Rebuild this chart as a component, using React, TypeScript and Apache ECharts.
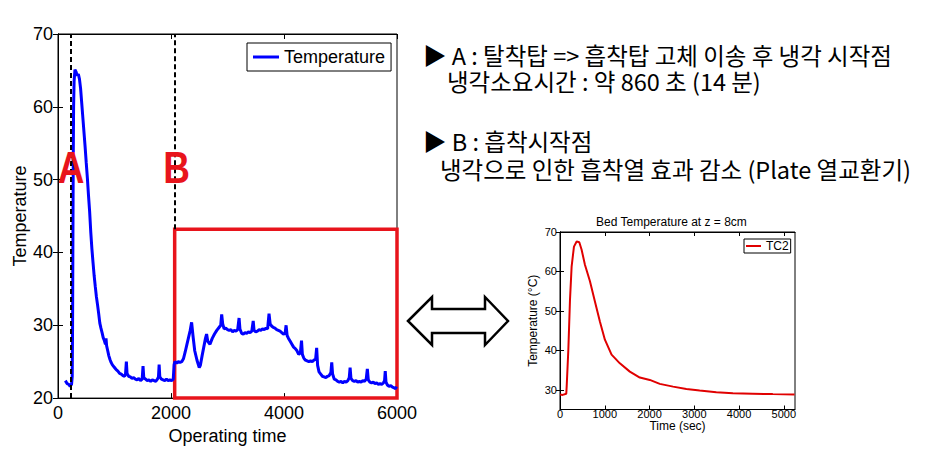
import React, { useEffect, useRef } from "react";
import * as echarts from "echarts";

// ---- Left chart: operating data ----
const opTime = [
  130, 160, 190, 215, 240, 252, 258, 264, 270, 276, 285, 300, 320, 340, 360, 380, 400, 420, 440, 460,
  480, 500, 520, 540, 560, 580, 600, 620, 640, 660, 680, 700, 720, 740, 760, 780, 800, 820, 840, 850,
  860, 880, 900, 920, 940, 960, 980, 1000, 1030, 1060, 1090, 1120, 1150, 1180, 1195, 1210, 1222, 1250, 1280, 1310,
  1340, 1370, 1400, 1430, 1460, 1490, 1505, 1518, 1550, 1580, 1610, 1640, 1670, 1700, 1730, 1760, 1778, 1790, 1802, 1830,
  1860, 1890, 1920, 1950, 1980, 2010, 2040, 2055, 2070, 2100, 2130, 2160, 2190, 2220, 2250, 2280, 2310, 2340, 2365, 2390,
  2420, 2460, 2500, 2520, 2550, 2580, 2610, 2630, 2650, 2690, 2730, 2770, 2810, 2850, 2880, 2897, 2915, 2940, 2970, 3000,
  3030, 3060, 3090, 3120, 3150, 3180, 3205, 3220, 3250, 3280, 3310, 3340, 3370, 3400, 3430, 3455, 3470, 3500, 3530, 3560,
  3590, 3620, 3650, 3680, 3710, 3735, 3755, 3780, 3810, 3840, 3870, 3900, 3930, 3960, 3990, 4020, 4037, 4055, 4080, 4110,
  4140, 4170, 4200, 4230, 4260, 4290, 4310, 4325, 4350, 4380, 4410, 4440, 4470, 4500, 4530, 4560, 4578, 4595, 4620, 4650,
  4680, 4710, 4740, 4770, 4800, 4830, 4845, 4860, 4890, 4920, 4950, 4980, 5010, 5040, 5070, 5100, 5130, 5155, 5170, 5185,
  5215, 5245, 5275, 5305, 5335, 5365, 5395, 5425, 5455, 5475, 5492, 5520, 5550, 5580, 5610, 5640, 5670, 5700, 5730, 5760,
  5780, 5792, 5805, 5830, 5860, 5890, 5920, 5950, 5975, 5990,
];
const opTemp = [
  22.4, 22.0, 21.9, 21.6, 21.9, 23.0, 30.0, 42.0, 53.0, 60.0, 63.5, 65.1, 64.8, 64.3, 64.5, 63.8, 62.5, 60.5, 58.5, 56.5,
  54.5, 52.3, 50.2, 47.8, 45.6, 42.8, 40.5, 38.6, 36.8, 35.3, 33.9, 32.8, 31.6, 30.3, 29.6, 29.0, 28.3, 27.9, 27.4, 28.2,
  27.2, 26.5, 25.8, 25.3, 24.9, 24.6, 24.4, 24.2, 23.9, 23.7, 23.4, 23.3, 23.1, 23.0, 23.3, 25.0, 23.4, 23.0, 22.9, 22.7,
  22.8, 22.6, 22.5, 22.7, 22.4, 22.6, 24.4, 22.8, 22.6, 22.4, 22.5, 22.3, 22.5, 22.4, 22.3, 22.6, 22.9, 24.6, 22.9, 22.6,
  22.5, 22.4, 22.6, 22.4, 22.5, 22.4, 22.6, 24.6, 25.0, 24.8, 25.0, 24.9, 25.0, 25.4, 26.3, 27.3, 28.3, 29.3, 30.4, 28.5,
  26.5, 25.2, 24.2, 24.5, 25.8, 27.0, 28.2, 28.8, 27.8, 27.4, 28.2, 28.8, 29.3, 29.7, 30.0, 31.5, 30.2, 29.5, 29.6, 29.4,
  29.3, 29.4, 29.1, 29.3, 29.2, 29.4, 31.0, 29.5, 28.9, 28.8, 29.0, 28.9, 29.1, 29.0, 29.2, 30.6, 29.3, 29.1, 29.2, 29.4,
  29.3, 29.5, 29.4, 29.6, 29.5, 31.6, 30.2, 29.9, 29.7, 29.6, 29.4, 29.3, 29.2, 29.0, 28.8, 28.9, 30.0, 28.6, 28.2, 27.8,
  27.4, 27.0, 26.8, 26.5, 26.0, 26.2, 27.9, 26.0, 25.5, 25.2, 25.1, 25.0, 25.1, 25.0, 25.2, 25.4, 26.9, 24.5, 23.6, 23.3,
  23.0, 22.9, 22.8, 23.0, 23.1, 23.5, 24.9, 23.3, 22.6, 22.5, 22.3, 22.2, 22.3, 22.1, 22.3, 22.2, 22.4, 22.8, 24.2, 22.7,
  22.4, 22.3, 22.4, 22.2, 22.3, 22.2, 22.4, 22.3, 22.6, 24.0, 22.5, 22.2, 22.1, 22.2, 22.0, 22.1, 21.9, 22.0, 21.9, 22.1,
  22.4, 23.7, 22.2, 21.8, 21.6, 21.7, 21.5, 21.4, 21.3, 21.6,
];
const markA = 230;
const markB = 2065;
const boxTop = 43.2;

// ---- Right chart: bed temperature TC2 ----
const tcTime = [
  0, 60, 140, 149, 186, 223, 260, 312, 372, 431, 483, 557, 669, 780, 891, 1003, 1152, 1337, 1560, 1783,
  2006, 2229, 2526, 2823, 3120, 3492, 3863, 4308, 4754, 5240,
];
const tcTemp = [
  28.8, 28.7, 29.0, 30.8, 40.1, 52.8, 61.3, 66.3, 67.6, 67.4, 65.5, 61.7, 57.5, 52.4, 47.3, 42.7, 38.9, 36.7, 34.6, 33.1,
  32.5, 31.5, 30.8, 30.2, 29.8, 29.4, 29.1, 29.0, 28.9, 28.8,
];
const rightXTicks = [0, 1000, 2000, 3000, 4000, 5000];
const rightYTicks = [30, 40, 50, 60, 70];

// ---- Annotation texts ----
const noteLines = [
  "▶ A : 탈착탑 => 흡착탑 고체 이송 후 냉각 시작점",
  "냉각소요시간 : 약 860 초 (14 분)",
  "▶ B : 흡착시작점",
  "냉각으로 인한 흡착열 효과 감소 (Plate 열교환기)",
];

const FONT = "Liberation Sans";
const KFONT = '"Noto Sans CJK KR", sans-serif';
const RED = "#e8141c";
const plain = (v: number) => String(v);

export default function App() {
  const ref = useRef<HTMLDivElement>(null);
  useEffect(() => {
    if (!ref.current) return;
    const chart = echarts.init(ref.current, null, { renderer: "svg" });
    const opData = opTime.map((t, i) => [t, opTemp[i]]);
    const tcData = tcTime.map((t, i) => [t, tcTemp[i]]);
    const black = { color: "#000" };
    const mirrorAxis = (gridIndex: number, pos: string, extra: any) => ({
      gridIndex,
      type: "value",
      position: pos,
      axisLine: { show: true, lineStyle: black },
      axisTick: { show: true, inside: true, length: 5, lineStyle: black, ...(extra.tick || {}) },
      axisLabel: { show: false },
      splitLine: { show: false },
      ...extra.base,
    });
    const note = (i: number, x: number, y: number) => ({
      type: "text", x, y,
      style: { text: noteLines[i], fill: "#000", font: `23.5px ${KFONT}`, textVerticalAlign: "middle", lineHeight: 24 },
    });
    const option: any = {
      animation: false,
      textStyle: { fontFamily: FONT },
      grid: [
        { left: 58, top: 34, width: 339, height: 365, show: true, borderColor: "#000", borderWidth: 1, backgroundColor: "#fff" },
        { left: 560, top: 232, width: 235, height: 177.5, show: true, borderColor: "#000", borderWidth: 1, backgroundColor: "#fff" },
      ],
      title: {
        text: "Bed Temperature at z = 8cm",
        left: 596,
        top: 216,
        padding: 0,
        textStyle: { fontSize: 12, fontWeight: "normal", color: "#000", fontFamily: FONT },
      },
      xAxis: [
        {
          gridIndex: 0, type: "value", min: 0, max: 6000, interval: 2000, position: "bottom",
          axisLine: { show: true, lineStyle: black },
          axisTick: { inside: true, length: 5, lineStyle: black },
          axisLabel: { fontSize: 18, color: "#000", margin: 6, fontFamily: FONT, formatter: plain },
          splitLine: { show: false },
          name: "Operating time", nameLocation: "middle", nameGap: 23,
          nameTextStyle: { fontSize: 18, color: "#000", fontFamily: FONT },
        },
        mirrorAxis(0, "top", { base: { min: 0, max: 6000, interval: 2000 } }),
        {
          gridIndex: 1, type: "value", min: 0, max: 5250, position: "bottom",
          axisLine: { show: true, lineStyle: black },
          axisTick: { inside: true, length: 4, lineStyle: black, customValues: rightXTicks },
          axisLabel: { fontSize: 11, color: "#000", margin: -1, fontFamily: FONT, customValues: rightXTicks, formatter: plain },
          splitLine: { show: false },
          name: "Time (sec)", nameLocation: "middle", nameGap: 5,
          nameTextStyle: { fontSize: 12, color: "#000", fontFamily: FONT },
        },
        mirrorAxis(1, "top", { base: { min: 0, max: 5250 }, tick: { length: 4, customValues: rightXTicks } }),
      ],
      yAxis: [
        {
          gridIndex: 0, type: "value", min: 20, max: 70, interval: 10, position: "left",
          axisLine: { show: true, lineStyle: black },
          axisTick: { inside: true, length: 5, lineStyle: black },
          axisLabel: { fontSize: 18, color: "#000", margin: 5, fontFamily: FONT, formatter: plain },
          splitLine: { show: false },
          name: "Temperature", nameLocation: "middle", nameGap: 27,
          nameTextStyle: { fontSize: 18, color: "#000", fontFamily: FONT },
        },
        mirrorAxis(0, "right", { base: { min: 20, max: 70, interval: 10 } }),
        {
          gridIndex: 1, type: "value", min: 25, max: 70, position: "left",
          axisLine: { show: true, lineStyle: black },
          axisTick: { inside: true, length: 4, lineStyle: black, customValues: rightYTicks },
          axisLabel: { fontSize: 11, color: "#000", margin: 3, fontFamily: FONT, customValues: rightYTicks, formatter: plain },
          splitLine: { show: false },
          name: "Temperature (°C)", nameLocation: "middle", nameGap: 21,
          nameTextStyle: { fontSize: 12, color: "#000", fontFamily: FONT },
        },
        mirrorAxis(1, "right", { base: { min: 25, max: 70 }, tick: { length: 4, customValues: rightYTicks } }),
      ],
      legend: [
        {
          data: ["Temperature"], left: 247, top: 43, icon: "rect", itemWidth: 26, itemHeight: 3,
          padding: [5, 6, 5, 6], borderColor: "#000", borderWidth: 1, backgroundColor: "#fff",
          selectedMode: false, textStyle: { fontSize: 18, color: "#000", fontFamily: FONT },
        },
        {
          data: ["TC2"], left: 744, top: 239, icon: "rect", itemWidth: 15, itemHeight: 2,
          padding: [1, 2, 1, 2], borderColor: "#000", borderWidth: 1, backgroundColor: "#fff",
          selectedMode: false, textStyle: { fontSize: 12, color: "#000", fontFamily: FONT },
        },
      ],
      series: [
        {
          name: "Temperature", type: "line", xAxisIndex: 0, yAxisIndex: 0, data: opData,
          showSymbol: false, symbol: "none", color: "#0000ff",
          lineStyle: { color: "#0000ff", width: 3 },
          markLine: {
            silent: true, symbol: ["none", "none"], label: { show: false },
            lineStyle: { type: [5, 3], color: "#000", width: 2 },
            data: [
              [{ coord: [markA, 20] }, { coord: [markA, 70] }],
              [{ coord: [markB, boxTop] }, { coord: [markB, 70] }],
            ],
          },
          markArea: {
            silent: true,
            itemStyle: { color: "rgba(0,0,0,0)", borderColor: RED, borderWidth: 3.5 },
            data: [[{ coord: [markB, 20] }, { coord: [6000, boxTop] }]],
          },
        },
        {
          name: "TC2", type: "line", xAxisIndex: 2, yAxisIndex: 2, data: tcData,
          showSymbol: false, symbol: "none", color: "#e00000",
          lineStyle: { color: "#e00000", width: 2 },
        },
      ],
      graphic: [
        { type: "text", x: 71, y: 168, scaleY: 1.2, z: 100, style: { text: "A", fill: RED, font: `bold 37px ${FONT}`, textAlign: "center", textVerticalAlign: "middle" } },
        { type: "text", x: 176.5, y: 168, scaleY: 1.2, z: 100, style: { text: "B", fill: RED, font: `bold 37px ${FONT}`, textAlign: "center", textVerticalAlign: "middle" } },
        note(0, 423, 55),
        note(1, 447, 81),
        note(2, 423, 141),
        note(3, 440, 169),
        {
          type: "polygon",
          shape: { points: [[408, 321], [432, 297], [432, 309], [485, 309], [485, 297], [508, 321], [485, 345], [485, 333], [432, 333], [432, 345]] },
          style: { fill: "#fff", stroke: "#000", lineWidth: 2.5 },
        },
      ],
    };
    chart.setOption(option);
    return () => chart.dispose();
  }, []);
  return <div ref={ref} style={{ position: "absolute", left: 0, top: 0, width: 941, height: 450 }} />;
}
